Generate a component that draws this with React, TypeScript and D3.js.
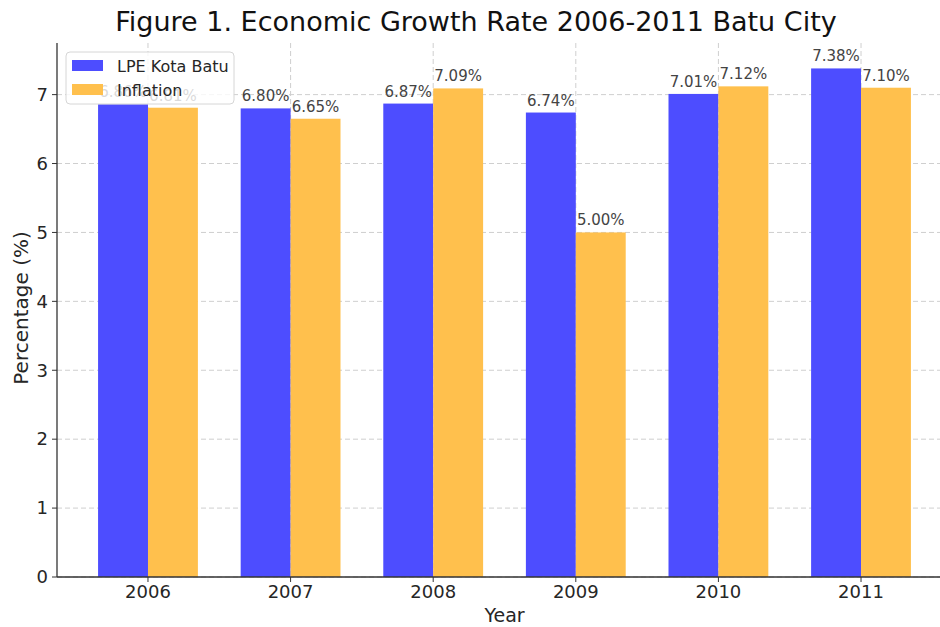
import React, { useEffect, useRef } from 'react';
import * as d3 from 'd3';

const years = ['2006', '2007', '2008', '2009', '2010', '2011'];
const lpeValues = [6.86, 6.80, 6.87, 6.74, 7.01, 7.38];
const inflationValues = [6.81, 6.65, 7.09, 5.00, 7.12, 7.10];
const yTicks = [0, 1, 2, 3, 4, 5, 6, 7];

const W = 940;
const H = 627;
const FONT = '"DejaVu Sans", Verdana, sans-serif';

const App: React.FC = () => {
    const svgRef = useRef<SVGSVGElement>(null);

    useEffect(() => {
        if (!svgRef.current) return;
        const svg = d3.select(svgRef.current);
        svg.selectAll('*').remove();

        const left = 57, right = 952, top = 43, bottom = 577;
        const barW = 0.35;

        const x = d3.scaleLinear().domain([-0.638, 5.638]).range([left, right]);
        const maxVal = d3.max([...lpeValues, ...inflationValues]) || 0;
        const y = d3.scaleLinear().domain([0, maxVal * 1.05]).range([bottom, top]);

        const grid = svg.append('g');
        grid.selectAll('line.h')
            .data(yTicks)
            .join('line')
            .attr('x1', left).attr('x2', right)
            .attr('y1', d => y(d)).attr('y2', d => y(d))
            .attr('stroke', '#cfcfcf').attr('stroke-dasharray', '5,3');
        grid.selectAll('line.v')
            .data(years)
            .join('line')
            .attr('x1', (_, i) => x(i)).attr('x2', (_, i) => x(i))
            .attr('y1', top).attr('y2', bottom)
            .attr('stroke', '#cfcfcf').attr('stroke-dasharray', '5,3');

        const series = [
            { values: lpeValues, color: '#4d4dff', offset: -barW / 2 },
            { values: inflationValues, color: '#ffc04d', offset: barW / 2 },
        ];

        series.forEach(s => {
            svg.append('g').selectAll('rect')
                .data(s.values)
                .join('rect')
                .attr('x', (_, i) => x(i + s.offset - barW / 2))
                .attr('width', x(barW) - x(0))
                .attr('y', d => y(d))
                .attr('height', d => bottom - y(d))
                .attr('fill', s.color);
        });

        series.forEach(s => {
            svg.append('g').selectAll('text')
                .data(s.values)
                .join('text')
                .attr('x', (_, i) => x(i + s.offset))
                .attr('y', d => y(d) - 7)
                .attr('text-anchor', 'middle')
                .attr('font-family', FONT)
                .attr('font-size', 15)
                .attr('fill', '#444')
                .text(d => d.toFixed(2) + '%');
        });

        // axes
        const axisG = svg.append('g').attr('font-family', FONT).attr('fill', '#262626');
        axisG.append('line')
            .attr('x1', left).attr('x2', right).attr('y1', bottom).attr('y2', bottom)
            .attr('stroke', '#333').attr('stroke-width', 1.3);
        axisG.append('line')
            .attr('x1', left).attr('x2', left).attr('y1', top).attr('y2', bottom)
            .attr('stroke', '#333').attr('stroke-width', 1.3);

        axisG.selectAll('line.yt')
            .data(yTicks)
            .join('line')
            .attr('x1', left - 5).attr('x2', left)
            .attr('y1', d => y(d)).attr('y2', d => y(d))
            .attr('stroke', '#333');
        axisG.selectAll('text.yt')
            .data(yTicks)
            .join('text')
            .attr('x', left - 9)
            .attr('y', d => y(d))
            .attr('dy', '0.35em')
            .attr('text-anchor', 'end')
            .attr('font-size', 18)
            .attr('fill', '#262626')
            .text(d => String(d));

        axisG.selectAll('line.xt')
            .data(years)
            .join('line')
            .attr('x1', (_, i) => x(i)).attr('x2', (_, i) => x(i))
            .attr('y1', bottom).attr('y2', bottom + 5)
            .attr('stroke', '#333');
        axisG.selectAll('text.xt')
            .data(years)
            .join('text')
            .attr('x', (_, i) => x(i))
            .attr('y', bottom + 21)
            .attr('text-anchor', 'middle')
            .attr('font-size', 18)
            .attr('fill', '#262626')
            .text(d => d);

        axisG.append('text')
            .attr('x', (left + right) / 2)
            .attr('y', 622)
            .attr('text-anchor', 'middle')
            .attr('font-size', 19)
            .attr('fill', '#262626')
            .text('Year');
        axisG.append('text')
            .attr('transform', `translate(28,${(top + bottom) / 2 - 2}) rotate(-90)`)
            .attr('text-anchor', 'middle')
            .attr('font-size', 20)
            .attr('fill', '#262626')
            .text('Percentage (%)');

        svg.append('text')
            .attr('x', 476)
            .attr('y', 31)
            .attr('text-anchor', 'middle')
            .attr('font-family', FONT)
            .attr('font-size', 27)
            .attr('fill', '#111')
            .text('Figure 1. Economic Growth Rate 2006-2011 Batu City');

        // legend
        const lg = svg.append('g').attr('transform', 'translate(66,52)');
        lg.append('rect')
            .attr('width', 168).attr('height', 52).attr('rx', 4)
            .attr('fill', 'white').attr('fill-opacity', 0.8)
            .attr('stroke', '#d6d6d6');
        const entries = [
            { label: 'LPE Kota Batu', color: '#4d4dff' },
            { label: 'Inflation', color: '#ffc04d' },
        ];
        entries.forEach((e, i) => {
            lg.append('rect')
                .attr('x', 6).attr('y', 8 + i * 24)
                .attr('width', 31).attr('height', 11)
                .attr('fill', e.color);
            lg.append('text')
                .attr('x', 51).attr('y', 14 + i * 24)
                .attr('dy', '0.35em')
                .attr('font-family', FONT)
                .attr('font-size', 16)
                .attr('fill', '#262626')
                .text(e.label);
        });
    }, []);

    return (
        <svg ref={svgRef} width={W} height={H} style={{ display: 'block', position: 'absolute', left: 0, top: 0 }}></svg>
    );
};

export default App;
